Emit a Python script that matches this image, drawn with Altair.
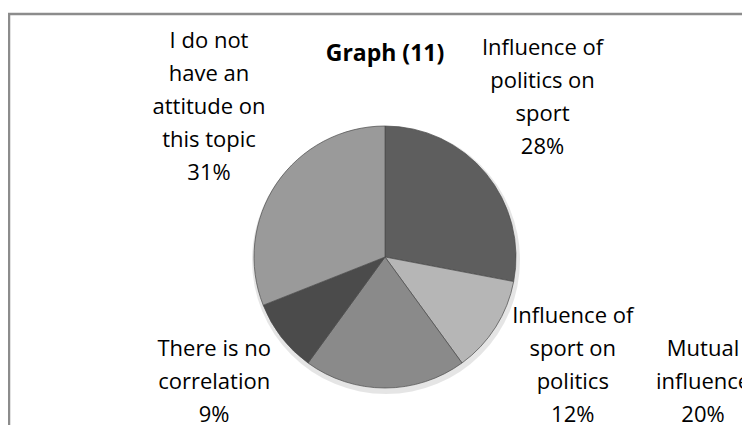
import math
import altair as alt
import pandas as pd

# ---- data ----
categories = [
    "Influence of\npolitics on\nsport",
    "Influence of\nsport on\npolitics",
    "Mutual\ninfluence",
    "There is no\ncorrelation",
    "I do not\nhave an\nattitude on\nthis topic",
]
percent = [28, 12, 20, 9, 31]
shades = ["#5e5e5e", "#b6b6b6", "#8a8a8a", "#4b4b4b", "#9a9a9a"]
title_text = "Graph (11)"

# ---- layout / style ----
W, H = 734, 417
CX, CY, R = 377, 249, 131
LABEL_R = 220
FONT = "Open Sans"
FS = 22
LH = 33
label_shift = [(-12, -19), (2, -9), (318, -95), (3, -10), (6, -26)]

df = pd.DataFrame({"category": categories, "value": percent, "order": list(range(len(categories)))})
df["label"] = df["category"] + "\n" + df["value"].astype(str) + "%"

base = alt.Chart(df)
one = alt.Chart(pd.DataFrame({"k": [0]}))

frame = one.mark_rect(
    fillOpacity=0, stroke="#8c8c8c", strokeWidth=2.5
).encode(x=alt.value(1), x2=alt.value(W + 40), y=alt.value(6), y2=alt.value(H + 40))

theta_scale = alt.Scale(domain=[0, 100], range=[0, 2 * math.pi])

shadow = one.mark_arc(outerRadius=R + 3, theta=0, theta2=2 * math.pi, color="#000000", opacity=0.10).encode(
    x=alt.value(CX + 1), y=alt.value(CY + 3)
)

pie = base.mark_arc(outerRadius=R, stroke="#4a4a4a", strokeWidth=0.7).encode(
    theta=alt.Theta("value:Q", stack=True, scale=theta_scale),
    order=alt.Order("order:Q"),
    color=alt.Color("category:N", scale=alt.Scale(domain=categories, range=shades), legend=None),
    x=alt.value(CX),
    y=alt.value(CY),
)

stacked = base.transform_window(
    v1="sum(value)", sort=[alt.SortField("order")]
).transform_calculate(mid="datum.v1 - datum.value / 2")

labels = []
for i, (ddx, ddy) in enumerate(label_shift):
    n_lines = df["label"][i].count("\n") + 1
    labels.append(
        stacked.transform_filter(alt.datum.order == i)
        .mark_text(
            radius=LABEL_R, dx=ddx, dy=ddy - (n_lines - 1) * LH / 2, font=FONT, fontSize=FS,
            lineHeight=LH, lineBreak="\n", align="center", baseline="middle", color="#000000",
        )
        .encode(
            theta=alt.Theta("mid:Q", stack=False, scale=theta_scale),
            x=alt.value(CX),
            y=alt.value(CY),
            text="label:N",
        )
    )

title = one.mark_text(
    font=FONT, fontSize=23, fontWeight="bold", align="center", baseline="middle", color="#000000"
).encode(x=alt.value(CX), y=alt.value(46), text=alt.value(title_text))

chart = alt.layer(frame, shadow, pie, *labels, title).properties(
    width=W, height=H, padding=0, autosize=alt.AutoSizeParams(type="none"),
    background="#ffffff",
).configure_view(stroke="transparent")

chart.save("out.html", embed_options={"renderer": "svg", "actions": False})
